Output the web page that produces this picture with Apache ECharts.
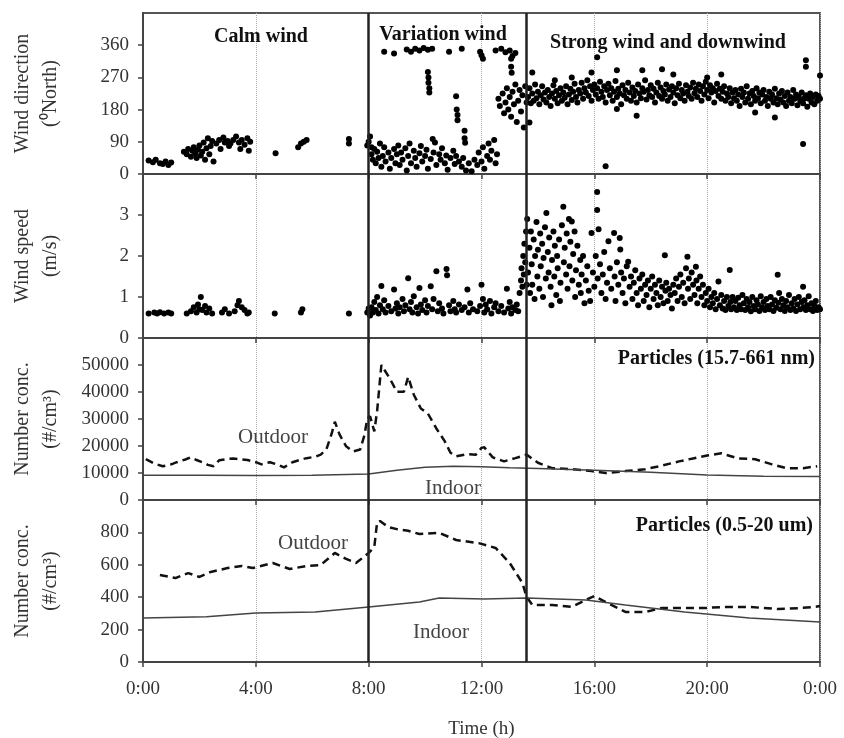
<!DOCTYPE html>
<html>
<head>
<meta charset="utf-8">
<script src="https://cdn.jsdelivr.net/npm/echarts@6/dist/echarts.min.js"></script>
<style>
  html, body { margin: 0; padding: 0; background: #fff; }
  #chart { width: 844px; height: 738px; }
</style>
</head>
<body>
<div id="chart"></div>
<script>
// time in hours (0-24)
var phaseBounds = [8, 13.6];
var hourTicks = ['0:00', '4:00', '8:00', '12:00', '16:00', '20:00', '0:00'];

// wind direction (deg from North)
var dirCalm = [[0.2,38],[0.35,33],[0.45,40],[0.6,30],[0.7,28],[0.8,35],[0.9,25],[1.0,32],
  [1.45,62],[1.55,55],[1.6,70],[1.7,48],[1.75,65],[1.8,75],[1.85,58],[1.9,45],[1.95,68],[2.0,80],
  [2.05,52],[2.1,62],[2.15,88],[2.2,40],[2.25,72],[2.3,100],[2.35,55],[2.4,78],[2.45,92],[2.5,35],
  [2.6,85],[2.7,95],[2.75,70],[2.85,102],[2.9,88],[3.0,92],[3.05,78],[3.1,85],[3.2,95],[3.3,105],
  [3.4,88],[3.45,70],[3.5,95],[3.6,82],[3.7,100],[3.75,65],[3.8,90],
  [4.7,58],[5.5,75],[5.6,85],[5.7,90],[5.8,95],[7.3,98],[7.3,85],[7.95,80],[8.0,90],[8.05,105],[8.1,75]];
var dirVariation = [[8.1,55],[8.15,40],[8.2,70],[8.25,30],[8.3,62],[8.35,45],[8.4,85],[8.45,20],[8.5,50],
  [8.55,75],[8.6,35],[8.7,60],[8.75,15],[8.8,45],[8.9,70],[8.95,30],[9.0,55],[9.05,80],[9.1,25],[9.15,60],
  [9.2,40],[9.3,72],[9.35,10],[9.4,50],[9.45,85],[9.5,30],[9.6,65],[9.65,45],[9.7,20],[9.8,58],[9.85,78],
  [9.9,35],[10.0,50],[10.05,68],[10.1,15],[10.2,42],[10.27,98],[10.3,60],[10.35,88],[10.4,25],[10.5,55],
  [10.55,40],[10.6,72],[10.7,30],[10.75,52],[10.8,12],[10.9,45],[11.0,65],[11.05,28],[11.1,50],[11.2,35],
  [11.3,20],[11.35,45],[11.45,10],[11.55,30],[11.65,8],[11.75,40],[11.85,25],[11.9,60],[12.0,35],[12.05,75],
  [12.1,15],[12.2,50],[12.25,85],[12.3,40],[12.35,65],[12.45,95],[12.5,30],[12.55,55],
  [8.55,342],[8.9,337],[9.35,348],[9.5,342],[9.65,350],[9.8,345],[9.95,352],[10.1,347],[10.25,350],
  [10.85,342],[11.3,350],[11.95,342],[12.0,332],[12.05,322],[12.5,345],[12.7,350],[12.85,340],[13.0,345],
  [13.1,330],[13.2,338],
  [10.1,285],[10.12,270],[10.12,255],[10.15,240],[10.15,228],
  [11.1,217],[11.12,180],[11.15,165],[11.15,150],[11.4,121],[11.4,100],[11.42,87],
  [13.05,322],[13.05,300],[13.07,283],
  [12.6,210],[12.65,190],[12.75,225],[12.8,170],[12.85,200],[12.9,240],[12.95,180],[13.0,215],[13.05,160],
  [13.1,230],[13.15,195],[13.2,250],[13.25,145],[13.3,205],[13.35,235],[13.4,175],[13.45,220],[13.5,130],
  [13.55,245],[13.6,200]];
var dirStrong = [[13.65,215],[13.7,240],[13.75,198],[13.8,225],[13.85,205],[13.9,250],[13.95,212],[14.0,230],
  [14.05,195],[14.1,220],[14.15,245],[14.2,208],[14.25,228],[14.3,200],[14.35,235],[14.4,215],[14.45,190],
  [14.5,225],[14.55,248],[14.6,210],[14.65,232],[14.7,198],[14.75,220],[14.8,240],[14.85,205],[14.9,228],
  [14.95,213],[15.0,245],[15.05,195],[15.1,222],[15.15,238],[15.2,207],[15.25,230],[15.3,252],[15.35,215],
  [15.4,200],[15.45,235],[15.5,225],[15.55,255],[15.6,210],[15.65,240],[15.7,228],[15.75,262],[15.8,218],
  [15.85,245],[15.9,205],[15.95,235],[16.0,250],[16.05,222],[16.1,240],[16.15,210],[16.2,258],[16.25,230],
  [16.3,215],[16.35,245],[16.4,200],[16.45,235],[16.5,252],[16.55,220],[16.6,240],[16.65,205],[16.7,230],
  [16.75,260],[16.8,215],[16.85,238],[16.9,225],[16.95,195],[17.0,248],[17.05,220],[17.1,235],[17.15,210],
  [17.2,255],[17.25,228],[17.3,205],[17.35,242],[17.4,218],[17.45,232],[17.5,200],[17.55,250],[17.6,225],
  [17.65,212],[17.7,240],[17.75,230],[17.8,262],[17.85,208],[17.9,235],[17.95,220],[18.0,248],[18.05,215],
  [18.1,238],[18.15,200],[18.2,228],[18.25,255],[18.3,218],[18.35,242],[18.4,210],[18.45,232],[18.5,222],
  [18.55,250],[18.6,205],[18.65,236],[18.7,215],[18.75,245],[18.8,228],[18.85,198],[18.9,240],[18.95,220],
  [19.0,252],[19.05,212],[19.1,235],[19.15,225],[19.2,205],[19.25,248],[19.3,230],[19.35,218],[19.4,242],
  [19.45,210],[19.5,255],[19.55,226],[19.6,238],[19.65,215],[19.7,250],[19.75,232],[19.8,205],[19.85,245],
  [19.9,222],[19.95,258],[20.0,235],[20.05,212],[20.1,248],[20.15,228],[20.2,240],[20.25,200],[20.3,232],
  [20.35,252],[20.4,218],[20.45,238],[20.5,210],[20.55,230],[20.6,245],[20.65,205],[20.7,225],[20.75,215],
  [20.8,240],[20.85,198],[20.9,228],[20.95,212],[21.0,235],[21.05,205],[21.1,222],[21.15,190],[21.2,238],
  [21.25,215],[21.3,228],[21.35,200],[21.4,245],[21.45,210],[21.5,225],[21.55,195],[21.6,232],[21.65,218],
  [21.7,205],[21.75,240],[21.8,212],[21.85,228],[21.9,198],[21.95,222],[22.0,235],[22.05,205],[22.1,215],
  [22.15,190],[22.2,230],[22.25,210],[22.3,222],[22.35,200],[22.4,238],[22.45,212],[22.5,195],[22.55,225],
  [22.6,208],[22.65,232],[22.7,200],[22.75,218],[22.8,190],[22.85,228],[22.9,205],[22.95,215],[23.0,198],
  [23.05,235],[23.1,210],[23.15,222],[23.2,192],[23.25,215],[23.3,205],[23.35,228],[23.4,198],[23.45,212],
  [23.5,220],[23.55,188],[23.6,210],[23.65,225],[23.7,200],[23.75,215],[23.8,195],[23.85,222],[23.9,205],
  [23.95,218],[24.0,210],
  [13.7,144],[13.8,284],[15.9,284],[16.1,326],[16.8,290],[16.8,182],[16.4,22],[17.5,163],[17.7,290],
  [18.4,293],[18.8,278],[20.0,270],[20.5,278],[21.7,172],[22.4,158],[23.4,84],[23.5,318],[23.5,300],
  [24.0,275],[15.2,270],[14.6,262]];

// wind speed (m/s)
var speedCalm = [[0.2,0.6],[0.4,0.62],[0.5,0.6],[0.6,0.63],[0.75,0.6],[0.9,0.62],[1.0,0.6],[1.55,0.6],
  [1.7,0.65],[1.8,0.75],[1.9,0.62],[1.95,0.82],[2.0,0.7],[2.05,1.0],[2.1,0.68],[2.2,0.78],[2.25,0.62],
  [2.35,0.72],[2.45,0.6],[2.8,0.62],[2.9,0.7],[3.05,0.6],[3.25,0.65],[3.35,0.8],[3.4,0.9],[3.5,0.75],
  [3.6,0.68],[3.7,0.6],[3.75,0.62],[4.67,0.6],[5.6,0.62],[5.65,0.7],[7.3,0.6],[7.95,0.62],[8.0,0.72],[8.05,0.55]];
var speedVariation = [[8.1,0.75],[8.15,0.62],[8.2,0.88],[8.25,0.68],[8.3,1.0],[8.35,0.6],[8.4,0.8],[8.45,1.27],
  [8.5,0.7],[8.55,0.92],[8.6,0.62],[8.7,0.78],[8.8,0.65],[8.9,1.18],[8.95,0.72],[9.0,0.85],[9.05,0.6],
  [9.1,0.75],[9.2,0.95],[9.25,0.65],[9.3,0.8],[9.4,1.46],[9.45,0.7],[9.5,0.88],[9.55,0.62],[9.6,1.02],
  [9.7,0.75],[9.75,0.6],[9.8,1.22],[9.85,0.82],[9.9,0.68],[10.0,0.92],[10.05,0.62],[10.1,0.78],[10.2,1.26],
  [10.25,0.7],[10.3,0.95],[10.4,1.63],[10.45,0.65],[10.5,0.85],[10.6,0.72],[10.65,0.6],[10.76,1.68],
  [10.78,1.53],[10.85,0.8],[10.9,0.65],[11.0,0.9],[11.05,0.7],[11.1,0.62],[11.2,0.82],[11.3,0.68],[11.4,0.75],
  [11.5,1.18],[11.55,0.62],[11.6,0.85],[11.7,0.7],[11.85,0.65],[11.95,0.78],[12.0,1.3],[12.05,0.95],
  [12.1,0.62],[12.15,0.82],[12.2,0.7],[12.3,0.9],[12.35,0.6],[12.45,0.75],[12.5,0.85],[12.6,0.65],[12.7,0.78],
  [12.8,0.62],[12.9,1.2],[12.95,0.72],[13.0,0.88],[13.05,0.6],[13.1,0.75],[13.2,0.68],[13.25,0.82],[13.3,0.65],
  [13.35,1.1],[13.4,1.4],[13.42,1.7],[13.45,1.25],[13.48,2.0],[13.5,1.55],[13.52,2.3],[13.55,1.85],
  [13.58,2.6],[13.6,1.3],[13.62,2.9]];
var speedStrong = [[13.65,1.6],[13.7,2.2],[13.72,1.1],[13.75,2.6],[13.78,1.8],[13.8,1.3],[13.85,2.4],[13.88,0.95],
  [13.9,2.0],[13.95,2.83],[13.98,1.5],[14.0,2.15],[14.05,1.2],[14.08,2.55],[14.1,1.75],[14.15,2.3],[14.18,1.0],
  [14.2,1.95],[14.25,2.7],[14.28,1.45],[14.3,3.05],[14.35,2.1],[14.38,1.6],[14.4,2.45],[14.45,1.25],[14.48,0.8],
  [14.5,1.9],[14.55,2.6],[14.58,1.5],[14.6,2.25],[14.65,1.05],[14.68,2.0],[14.7,1.7],[14.75,2.4],[14.78,0.9],
  [14.8,1.35],[14.85,2.75],[14.9,3.2],[14.92,1.85],[14.95,2.2],[15.0,1.55],[15.02,2.55],[15.05,1.2],[15.1,2.9],
  [15.12,1.75],[15.15,2.35],[15.2,2.84],[15.22,1.4],[15.25,2.05],[15.3,2.6],[15.32,1.0],[15.35,1.65],[15.4,2.25],
  [15.45,1.3],[15.5,1.9],[15.52,1.1],[15.55,1.55],[15.6,2.0],[15.65,0.85],[15.7,1.4],[15.75,1.75],[15.8,1.15],
  [15.85,0.9],[15.9,2.56],[15.95,1.6],[16.0,1.25],[16.05,2.0],[16.1,3.56],[16.1,3.12],[16.12,1.45],[16.15,2.65],
  [16.2,1.8],[16.25,1.1],[16.3,1.55],[16.35,2.1],[16.4,0.95],[16.45,1.35],[16.5,2.36],[16.55,1.7],[16.6,1.2],
  [16.7,2.56],[16.72,1.5],[16.75,0.9],[16.8,1.85],[16.85,1.3],[16.9,2.44],[16.92,2.16],[16.95,1.6],[17.0,1.1],
  [17.05,1.45],[17.1,0.85],[17.15,1.75],[17.2,1.86],[17.25,1.25],[17.3,1.5],[17.35,0.95],[17.4,1.35],[17.45,1.65],
  [17.5,1.1],[17.55,0.8],[17.6,1.45],[17.65,1.2],[17.7,1.55],[17.75,0.9],[17.8,1.3],[17.85,1.05],[17.9,1.4],
  [17.95,0.75],[18.0,1.2],[18.05,1.5],[18.1,0.95],[18.15,1.3],[18.2,1.1],[18.25,0.8],[18.3,1.4],[18.35,1.0],
  [18.4,1.25],[18.45,0.85],[18.5,2.02],[18.52,1.15],[18.55,1.35],[18.6,0.9],[18.65,1.2],[18.7,1.05],[18.75,0.72],
  [18.8,1.3],[18.85,1.1],[18.9,1.45],[18.95,0.9],[19.0,1.25],[19.05,1.55],[19.1,1.0],[19.15,1.35],[19.2,0.85],
  [19.25,1.7],[19.3,1.98],[19.32,1.2],[19.35,1.45],[19.4,0.95],[19.45,1.6],[19.5,1.3],[19.55,1.05],[19.6,1.74],
  [19.62,1.4],[19.65,0.85],[19.7,1.2],[19.75,1.5],[19.8,1.0],[19.85,1.3],[19.9,0.8],[19.95,1.1],[20.0,0.9],
  [20.05,1.2],[20.1,0.75],[20.15,1.0],[20.2,0.85],[20.25,1.1],[20.3,0.7],[20.35,0.95],[20.4,1.38],[20.45,0.8],
  [20.5,1.05],[20.55,0.72],[20.6,0.9],[20.65,0.68],[20.7,1.0],[20.75,0.78],[20.8,1.66],[20.82,0.88],[20.85,0.7],
  [20.9,1.0],[20.95,0.75],[21.0,0.9],[21.05,0.68],[21.1,0.98],[21.15,0.8],[21.2,0.7],[21.25,1.05],[21.3,0.85],
  [21.35,0.68],[21.4,0.95],[21.45,0.75],[21.5,0.88],[21.55,0.65],[21.6,1.0],[21.65,0.78],[21.7,0.7],[21.75,0.92],
  [21.8,0.82],[21.85,0.66],[21.9,1.02],[21.95,0.75],[22.0,0.88],[22.05,0.68],[22.1,0.95],[22.15,0.78],[22.2,0.7],
  [22.25,1.0],[22.3,0.82],[22.35,0.66],[22.4,0.92],[22.45,0.74],[22.5,1.54],[22.52,0.86],[22.55,1.1],[22.6,0.7],
  [22.65,0.95],[22.7,0.8],[22.75,0.66],[22.8,0.9],[22.85,0.75],[22.9,1.05],[22.95,0.68],[23.0,0.85],[23.05,0.72],
  [23.1,0.95],[23.15,0.66],[23.2,0.82],[23.25,1.0],[23.3,0.7],[23.35,0.88],[23.4,1.25],[23.42,0.75],[23.45,0.92],
  [23.5,0.68],[23.55,0.8],[23.6,1.02],[23.65,0.7],[23.7,0.85],[23.75,0.66],[23.8,0.78],[23.85,0.9],[23.9,0.68],
  [23.95,0.75],[24.0,0.7]];

// particles 15.7-661 nm (#/cm3)
var fineOutdoor = [[0.1,15100],[0.4,13500],[0.7,12500],[1.0,13200],[1.2,14000],[1.5,15000],[1.7,15800],
  [1.9,14800],[2.1,14000],[2.3,13000],[2.5,12500],[2.7,14700],[3.0,15200],[3.2,15400],[3.5,15000],[3.7,14800],
  [4.0,14000],[4.2,13200],[4.5,14000],[4.8,13000],[5.0,12100],[5.3,14000],[5.6,15000],[5.8,15500],[6.1,16000],
  [6.3,16800],[6.5,18700],[6.7,25000],[6.8,29000],[6.97,24200],[7.2,19900],[7.45,18000],[7.7,18700],[7.85,24000],
  [7.95,30200],[8.05,31000],[8.2,25400],[8.3,33000],[8.38,42000],[8.45,50000],[8.6,47500],[8.75,45000],
  [9.0,40100],[9.25,40100],[9.4,45600],[9.6,39000],[9.85,33900],[10.1,32000],[10.4,26500],[10.7,21700],
  [10.9,17500],[11.1,16200],[11.5,17000],[11.8,16800],[12.0,19300],[12.1,19500],[12.4,15800],[12.8,14300],
  [13.2,15500],[13.6,16800],[14.0,13800],[14.5,11800],[15.2,11400],[15.9,10700],[16.4,10000],[17.1,10700],
  [17.8,11400],[18.3,12500],[19.0,14300],[19.5,15400],[20.0,16500],[20.5,17300],[21.1,15400],[21.7,15100],
  [22.3,13200],[22.8,11800],[23.4,11800],[23.9,12500]];
var fineIndoor = [[0,9200],[2,9200],[4,9100],[6,9200],[8,9600],[9,11000],[10,12100],[11,12500],[12,12300],
  [13,11900],[14,11700],[16,11000],[18,10300],[20,9300],[22,8800],[24,8700]];

// particles 0.5-20 um (#/cm3)
var coarseOutdoor = [[0.6,537],[1.15,518],[1.6,549],[2.0,525],[2.4,556],[3.0,580],[3.5,593],[3.9,580],[4.6,611],
  [5.2,574],[5.8,593],[6.3,599],[6.8,673],[7.2,636],[7.55,611],[8.0,673],[8.2,710],[8.3,864],[8.4,870],[8.7,833],
  [9.0,820],[9.4,810],[9.8,790],[10.5,797],[11.1,753],[11.9,734],[12.5,704],[13.0,611],[13.45,488],[13.6,401],
  [13.8,352],[14.5,352],[15.2,340],[15.7,383],[16.0,407],[16.6,352],[17.1,309],[17.8,309],[18.4,333],[19.2,333],
  [19.9,333],[20.6,340],[21.5,340],[22.5,327],[23.3,333],[23.8,340],[24,345]];
var coarseIndoor = [[0,272],[2.25,280],[4,302],[6.1,308],[8,340],[9.8,370],[10.5,395],[12.1,389],[13.6,395],
  [15.7,383],[17.1,352],[19.2,309],[21.5,272],[24,247]];

var yNames = ['Wind direction\n(\u2070North)', 'Wind speed\n(m/s)', 'Number conc.\n(#/cm\u00b3)', 'Number conc.\n(#/cm\u00b3)'];
var yMax = [450, 4, 60000, 1000];
var yStep = [90, 1, 10000, 200];

var serif = 'Liberation Serif';
var myChart = echarts.init(document.getElementById('chart'));

var grids = [
  { left: 143, width: 677, top: 13, height: 161 },
  { left: 143, width: 677, top: 174, height: 164 },
  { left: 143, width: 677, top: 338, height: 162 },
  { left: 143, width: 677, top: 500, height: 162 }
];
grids.forEach(function (g) {
  g.show = true; g.borderColor = '#555'; g.borderWidth = 2;
  g.containLabel = false; g.outerBoundsMode = 'none';
});

var xAxes = [], yAxes = [];
for (var i = 0; i < 4; i++) {
  xAxes.push({
    gridIndex: i, type: 'value', min: 0, max: 24, interval: 4,
    axisLine: { show: true, onZero: false, lineStyle: { color: '#444', width: 2 } },
    axisTick: { show: true, length: 5, lineStyle: { color: '#444', width: 1.5 } },
    axisLabel: {
      show: i === 3, margin: 18, color: '#333', fontFamily: serif, fontSize: 19,
      formatter: function (v) { return hourTicks[v / 4]; }
    },
    splitLine: { show: true, lineStyle: { type: 'dotted', color: '#aaa', width: 1 } },
    name: i === 3 ? 'Time (h)' : '', nameLocation: 'middle', nameGap: 58,
    nameTextStyle: { color: '#333', fontFamily: serif, fontSize: 19 }
  });
  yAxes.push({
    gridIndex: i, type: 'value', min: 0, max: yMax[i], interval: yStep[i],
    axisLine: { show: true, lineStyle: { color: '#444', width: 2 } },
    axisTick: { show: true, length: 5, lineStyle: { color: '#444', width: 1.5 } },
    axisLabel: {
      showMaxLabel: false, margin: 14, color: '#333', fontFamily: serif, fontSize: 19,
      formatter: function (v) { return String(v); }
    },
    splitLine: { show: false },
    name: yNames[i], nameLocation: 'middle', nameRotate: 90, nameGap: 78,
    nameTextStyle: { color: '#333', fontFamily: serif, fontSize: 20, lineHeight: 28 }
  });
}

var phaseLines = {
  symbol: 'none', silent: true, animation: false,
  label: { show: false },
  lineStyle: { color: '#222', width: 2.5, type: 'solid' },
  data: phaseBounds.map(function (b) { return { xAxis: b }; })
};

var option = {
  animation: false,
  grid: grids,
  xAxis: xAxes,
  yAxis: yAxes,
  series: [
    {
      type: 'scatter', xAxisIndex: 0, yAxisIndex: 0, symbolSize: 6,
      itemStyle: { color: '#000', opacity: 1 },
      data: dirCalm.concat(dirVariation, dirStrong),
      markLine: phaseLines
    },
    {
      type: 'scatter', xAxisIndex: 1, yAxisIndex: 1, symbolSize: 6,
      itemStyle: { color: '#000', opacity: 1 },
      data: speedCalm.concat(speedVariation, speedStrong),
      markLine: phaseLines
    },
    {
      type: 'line', xAxisIndex: 2, yAxisIndex: 2, symbol: 'none',
      lineStyle: { color: '#111', width: 2.5, type: [8, 5] },
      data: fineOutdoor, markLine: phaseLines
    },
    {
      type: 'line', xAxisIndex: 2, yAxisIndex: 2, symbol: 'none',
      lineStyle: { color: '#444', width: 1.5 },
      data: fineIndoor
    },
    {
      type: 'line', xAxisIndex: 3, yAxisIndex: 3, symbol: 'none',
      lineStyle: { color: '#111', width: 2.5, type: [8, 5] },
      data: coarseOutdoor, markLine: phaseLines
    },
    {
      type: 'line', xAxisIndex: 3, yAxisIndex: 3, symbol: 'none',
      lineStyle: { color: '#444', width: 1.5 },
      data: coarseIndoor
    }
  ],
  graphic: [
    txt('Calm wind', 261, 37, 'center', true),
    txt('Variation wind', 443, 35, 'center', true),
    txt('Strong wind and downwind', 668, 43, 'center', true),
    txt('Particles (15.7-661 nm)', 815, 359, 'right', true),
    txt('Particles (0.5-20 um)', 813, 526, 'right', true),
    txt('Outdoor', 273, 437, 'center', false),
    txt('Indoor', 453, 488, 'center', false),
    txt('Outdoor', 313, 543, 'center', false),
    txt('Indoor', 441, 632, 'center', false)
  ]
};

function txt(s, x, y, align, bold) {
  return {
    type: 'text', x: x, y: y, z: 100,
    style: {
      text: s, fill: bold ? '#111' : '#444',
      font: (bold ? 'bold ' : '') + (bold ? 20 : 21) + 'px "Liberation Serif"',
      textAlign: align, textVerticalAlign: 'middle', align: align, verticalAlign: 'middle'
    }
  };
}

myChart.setOption(option);
</script>
</body>
</html>
